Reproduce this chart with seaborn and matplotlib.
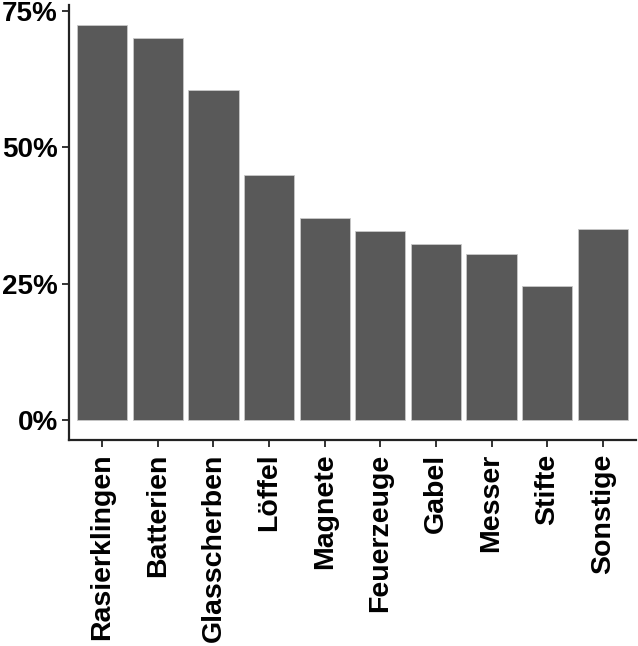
import pandas as pd
import seaborn as sns
import matplotlib.pyplot as plt
from matplotlib.ticker import PercentFormatter

# share of cases per item
items = ["Rasierklingen", "Batterien", "Glasscherben", "Löffel", "Magnete",
         "Feuerzeuge", "Gabel", "Messer", "Stifte", "Sonstige"]
share = [72.4, 69.9, 60.4, 44.9, 37.1, 34.6, 32.3, 30.5, 24.5, 35.1]
yticks = [0, 25, 50, 75]

df = pd.DataFrame({"item": items, "share": share})

sns.set_style("white")
plt.rcParams["font.family"] = ["Liberation Sans", "DejaVu Sans"]

fig = plt.figure(figsize=(6.38, 6.46), dpi=100)
ax = fig.add_axes([0.108, 0.319, 0.889, 0.673])

sns.barplot(data=df, x="item", y="share", order=items, color="#595959",
            saturation=1, width=0.9, edgecolor="#c8c8c8", linewidth=0.6, ax=ax)

ax.set_xlim(-0.6, len(items) - 0.4)
ax.set_ylim(-3.6, 76.0)
ax.set_yticks(yticks)
ax.yaxis.set_major_formatter(PercentFormatter(decimals=0))
ax.set_xlabel("")
ax.set_ylabel("")

sns.despine(ax=ax, top=True, right=True)
for side in ["left", "bottom"]:
    ax.spines[side].set_linewidth(1.6)
    ax.spines[side].set_color("#222222")

ax.tick_params(axis="both", length=5, width=1.4, color="#333333",
               labelcolor="black", bottom=True, left=True)
ax.tick_params(axis="x", labelsize=20.5, pad=5)
ax.tick_params(axis="y", labelsize=20, pad=3)
plt.setp(ax.get_xticklabels(), rotation=90, ha="center", va="top", fontweight="bold")
plt.setp(ax.get_yticklabels(), fontweight="bold")

fig.savefig("out.png", dpi=100)
